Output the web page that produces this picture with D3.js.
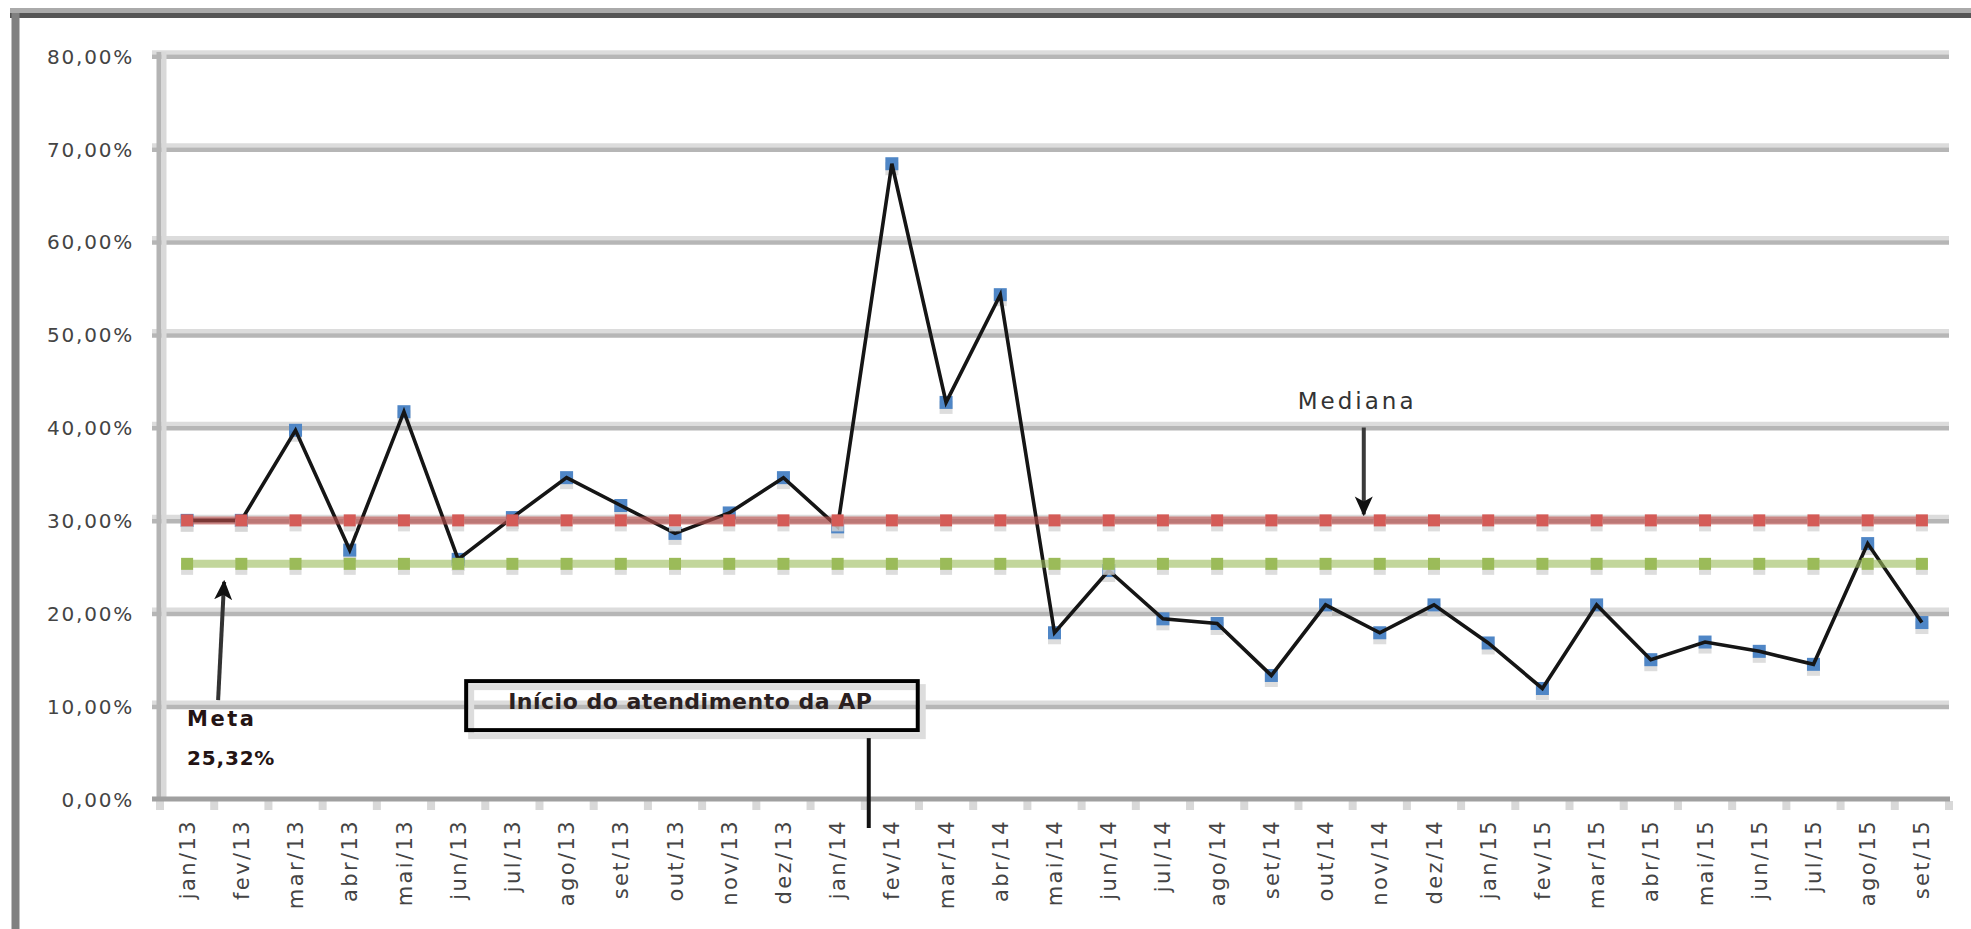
<!DOCTYPE html>
<html>
<head>
<meta charset="utf-8">
<script src="https://cdn.jsdelivr.net/npm/d3@7"></script>
<style>
  body { margin: 0; background: #fff; }
  svg { display: block; }
  .tick text { font-family: "DejaVu Sans", sans-serif; fill: #444; }
</style>
</head>
<body>
<div id="chart"></div>
<script>
(function() {
  // Months on the x axis
  var meses = ["jan/13", "fev/13", "mar/13", "abr/13", "mai/13", "jun/13", "jul/13", "ago/13",
    "set/13", "out/13", "nov/13", "dez/13", "jan/14", "fev/14", "mar/14", "abr/14", "mai/14",
    "jun/14", "jul/14", "ago/14", "set/14", "out/14", "nov/14", "dez/14", "jan/15", "fev/15",
    "mar/15", "abr/15", "mai/15", "jun/15", "jul/15", "ago/15", "set/15"];

  // Monthly rate (%)
  var taxa = [30.0, 30.0, 39.7, 26.8, 41.7, 25.8, 30.3, 34.6, 31.6, 28.6, 30.8, 34.6, 29.3,
    68.4, 42.7, 54.3, 17.9, 24.6, 19.4, 18.9, 13.3, 20.9, 17.9, 20.9, 16.8, 11.9, 20.9,
    15.0, 16.9, 15.9, 14.5, 27.5, 19.0];

  // Reference lines
  var medianaValor = 30.0;
  var metaValor = 25.32;

  // y axis ticks
  var yTicks = [0, 10, 20, 30, 40, 50, 60, 70, 80];

  var width = 1971, height = 929;
  var margin = {top: 56, left: 160, right: 22, bottom: 130};

  var svg = d3.select("#chart")
    .append("svg")
    .attr("width", width)
    .attr("height", height);

  svg.append("rect").attr("width", width).attr("height", height).attr("fill", "#fff");

  // Scales
  var x = d3.scaleBand()
    .domain(meses)
    .range([margin.left, width - margin.right])
    .padding(0);
  var xc = function(m) { return x(m) + x.bandwidth() / 2; };

  var y = d3.scaleLinear()
    .domain([0, 80])
    .range([height - margin.bottom, margin.top]);

  var ptBR = d3.formatLocale({decimal: ",", thousands: ".", grouping: [3], currency: ["R$", ""]});
  var fmt = ptBR.format(".2f");

  var x0 = margin.left, x1 = width - margin.right;

  // Outer frame (top and left edges only)
  svg.append("line").attr("x1", 10).attr("x2", width).attr("y1", 10.5).attr("y2", 10.5)
    .attr("stroke", "#aaaaaa").attr("stroke-width", 5);
  svg.append("line").attr("x1", 10).attr("x2", width).attr("y1", 15.5).attr("y2", 15.5)
    .attr("stroke", "#555555").attr("stroke-width", 5);
  svg.append("line").attr("x1", 15.5).attr("x2", 15.5).attr("y1", 13).attr("y2", height)
    .attr("stroke", "#808080").attr("stroke-width", 8);

  // Gridlines
  var grid = svg.append("g").attr("class", "grid");
  yTicks.filter(function(d) { return d > 0; }).forEach(function(t) {
    grid.append("line").attr("x1", x0 - 8).attr("x2", x1)
      .attr("y1", y(t) - 3.5).attr("y2", y(t) - 3.5)
      .attr("stroke", "#dcdcdc").attr("stroke-width", 4.5);
    grid.append("line").attr("x1", x0 - 8).attr("x2", x1)
      .attr("y1", y(t) + 0.8).attr("y2", y(t) + 0.8)
      .attr("stroke", "#b6b6b6").attr("stroke-width", 4.5);
  });

  // y axis line
  svg.append("line").attr("x1", x0 - 1).attr("x2", x0 - 1).attr("y1", y(80) - 4).attr("y2", y(0))
    .attr("stroke", "#b4b4b4").attr("stroke-width", 5);
  svg.append("line").attr("x1", x0 + 4).attr("x2", x0 + 4).attr("y1", y(80) - 4).attr("y2", y(0))
    .attr("stroke", "#d9d9d9").attr("stroke-width", 5);

  // y axis labels
  svg.append("g")
    .attr("transform", "translate(" + x0 + ",0)")
    .call(d3.axisLeft(y).tickValues(yTicks).tickSize(0).tickPadding(26)
      .tickFormat(function(d) { return fmt(d) + "%"; }))
    .call(function(g) { g.select(".domain").remove(); })
    .selectAll("text")
    .attr("font-size", 20)
    .attr("letter-spacing", 1.8)
    .attr("dy", "0.36em");

  // x axis line and tick marks at the band edges
  var edges = meses.map(function(m) { return x(m); }).concat([x1]);
  svg.append("g").selectAll("rect")
    .data(edges)
    .enter().append("rect")
    .attr("x", function(d) { return d - 4; })
    .attr("y", y(0) + 2)
    .attr("width", 8)
    .attr("height", 9)
    .attr("fill", "#d8d8d8");
  svg.append("line").attr("x1", x0 - 8).attr("x2", x1 + 1).attr("y1", y(0)).attr("y2", y(0))
    .attr("stroke", "#a0a0a0").attr("stroke-width", 5);

  svg.append("g")
    .attr("transform", "translate(0," + y(0) + ")")
    .call(d3.axisBottom(x).tickSize(0))
    .call(function(g) { g.select(".domain").remove(); })
    .selectAll("text")
    .attr("font-size", 21)
    .attr("letter-spacing", 2.4)
    .attr("text-anchor", "end")
    .attr("transform", "rotate(-90)")
    .attr("x", -20)
    .attr("y", 0)
    .attr("dy", "0.36em");

  // Square markers with a soft shadow
  function markers(g, vals, color, size) {
    g.selectAll(null).data(vals).enter().append("rect")
      .attr("x", function(d, i) { return xc(meses[i]) - size / 2; })
      .attr("y", function(d) { return y(d) - size / 2 + 5; })
      .attr("width", size).attr("height", size)
      .attr("fill", "#d4d4d4").attr("opacity", 0.8);
    g.selectAll(null).data(vals).enter().append("rect")
      .attr("x", function(d, i) { return xc(meses[i]) - size / 2; })
      .attr("y", function(d) { return y(d) - size / 2; })
      .attr("width", size).attr("height", size)
      .attr("fill", color);
  }

  var line = d3.line()
    .x(function(d, i) { return xc(meses[i]); })
    .y(function(d) { return y(d); });

  // Data series: blue markers under a black line
  var serie = svg.append("g");
  markers(serie, taxa, "#4f86c6", 13);
  serie.append("path")
    .datum(taxa)
    .attr("d", line)
    .attr("fill", "none")
    .attr("stroke", "#151515")
    .attr("stroke-width", 3.6)
    .attr("stroke-linejoin", "miter");

  // Median (red) and goal (green) lines
  function refLine(valor, lineColor, markColor) {
    var vals = meses.map(function() { return valor; });
    var g = svg.append("g");
    g.append("line")
      .attr("x1", xc(meses[0])).attr("x2", xc(meses[meses.length - 1]) + 6)
      .attr("y1", y(valor)).attr("y2", y(valor))
      .attr("stroke", lineColor).attr("stroke-width", 8).attr("opacity", 0.6);
    markers(g, vals, markColor, 12);
  }
  refLine(medianaValor, "#c0504d", "#d45b57");
  refLine(metaValor, "#9bbb59", "#9bbb59");

  // Arrow head
  var defs = svg.append("defs");
  defs.append("marker")
    .attr("id", "seta")
    .attr("markerUnits", "userSpaceOnUse")
    .attr("viewBox", "0 0 20 20")
    .attr("markerWidth", 20).attr("markerHeight", 20)
    .attr("refX", 18).attr("refY", 10)
    .attr("orient", "auto")
    .append("path")
    .attr("d", "M0,1 L20,10 L0,19 L5,10 Z")
    .attr("fill", "#111");

  // Mediana annotation
  var xMed = xc("nov/14") - 16;
  svg.append("line")
    .attr("x1", xMed).attr("x2", xMed)
    .attr("y1", y(40)).attr("y2", y(medianaValor) - 6)
    .attr("stroke", "#3a3a3a").attr("stroke-width", 4)
    .attr("marker-end", "url(#seta)");
  svg.append("text")
    .attr("x", xMed - 66).attr("y", y(40) - 19)
    .attr("font-family", "DejaVu Sans, sans-serif")
    .attr("font-size", 23)
    .attr("letter-spacing", 3)
    .attr("fill", "#333")
    .text("Mediana");

  // Meta annotation
  var xMeta = xc(meses[0]);
  svg.append("line")
    .attr("x1", xMeta + 31).attr("x2", xMeta + 37)
    .attr("y1", y(10) - 6).attr("y2", y(metaValor) + 18)
    .attr("stroke", "#333").attr("stroke-width", 4)
    .attr("marker-end", "url(#seta)");
  svg.append("text")
    .attr("x", xMeta).attr("y", y(10) + 20)
    .attr("font-family", "DejaVu Sans, sans-serif")
    .attr("font-size", 21).attr("font-weight", "bold")
    .attr("letter-spacing", 2.5)
    .attr("fill", "#241414")
    .text("Meta");
  svg.append("text")
    .attr("x", xMeta).attr("y", y(10) + 59)
    .attr("font-family", "DejaVu Sans, sans-serif")
    .attr("font-size", 20).attr("font-weight", "bold")
    .attr("letter-spacing", 0.8)
    .attr("fill", "#241414")
    .text("25,32%");

  // Box: start of AP care
  var bx0 = xc("jun/13") + 8, bx1 = x("fev/14") + 53;
  var by0 = y(10) - 25, by1 = y(10) + 24;
  svg.append("rect")
    .attr("x", bx0 + 5).attr("y", by0 + 6)
    .attr("width", bx1 - bx0).attr("height", by1 - by0)
    .attr("fill", "none").attr("stroke", "#dddddd").attr("stroke-width", 6);
  svg.append("rect")
    .attr("x", bx0).attr("y", by0)
    .attr("width", bx1 - bx0).attr("height", by1 - by0)
    .attr("fill", "none").attr("stroke", "#000").attr("stroke-width", 4);
  svg.append("text")
    .attr("x", bx0 + 42).attr("y", y(10) + 3)
    .attr("font-family", "DejaVu Sans, sans-serif")
    .attr("font-size", 22).attr("font-weight", "bold")
    .attr("letter-spacing", 0.5)
    .attr("fill", "#2a2020")
    .text("Início do atendimento da AP");

  var xAP = x("fev/14") + 4;
  svg.append("line")
    .attr("x1", xAP).attr("x2", xAP)
    .attr("y1", by1 + 8).attr("y2", y(0) + 29)
    .attr("stroke", "#111").attr("stroke-width", 4);
})();
</script>
</body>
</html>
